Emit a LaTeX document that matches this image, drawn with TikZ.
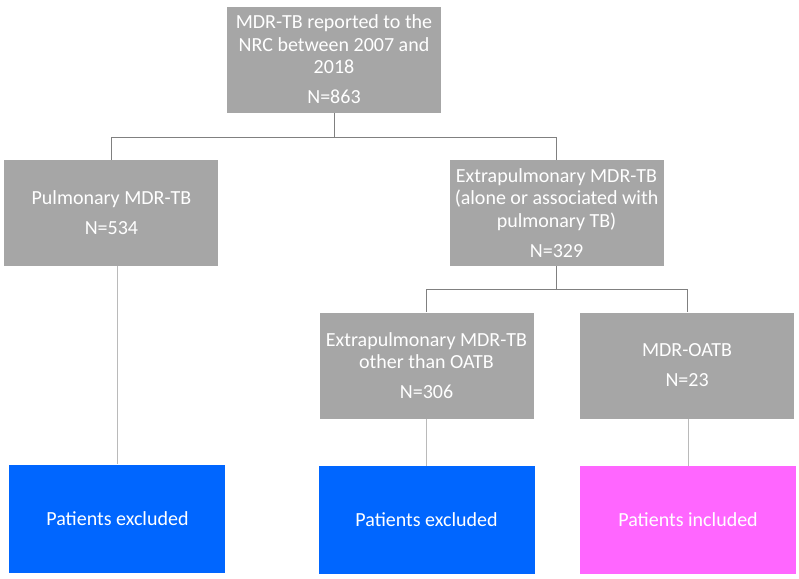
\documentclass[tikz,border=0pt]{standalone}
\usepackage{fontspec}
\setmainfont{Carlito}
\usetikzlibrary{positioning, calc}
\definecolor{boxgrey}{HTML}{A6A6A6}
\definecolor{exblue}{HTML}{0066FF}
\definecolor{inpink}{HTML}{FF66FF}
\tikzset{%
	stage/.style={rectangle, minimum width=160.5pt, minimum height=79.5pt, inner sep=0pt,%
		align=center, text=white, font=\fontsize{15pt}{16.9pt}\selectfont, fill=boxgrey},
	excl/.style={stage, fill=exblue, minimum width=162pt, minimum height=81pt},
	incl/.style={stage, fill=inpink, minimum width=162pt, minimum height=81pt},
	link/.style={draw=black!50, line width=0.75pt},
	drop/.style={draw=black!27, line width=0.75pt}
}
\begin{document}
\begin{tikzpicture}[x=0.75pt, y=-0.75pt]
	\useasboundingbox (0,0) rectangle (799,578);
	\node[stage] (src) at (334,59.5) {MDR-TB reported to the\\NRC between 2007 and\\2018\\[5.6pt]N=863};
	\node[stage, below left=35.25pt and 6pt of src] (pulm) {Pulmonary MDR-TB\\[5.6pt]N=534};
	\node[stage, below right=35.25pt and 6pt of src] (extra) {Extrapulmonary MDR-TB\\(alone or associated with\\pulmonary TB)\\[5.6pt]N=329};
	\node[stage, below=34.5pt of extra, xshift=-97.5pt] (other) {Extrapulmonary MDR-TB\\other than OATB\\[5.6pt]N=306};
	\node[stage, right=34.5pt of other] (oatb) {MDR-OATB\\[5.6pt]N=23};
	\node[excl, below=148.5pt of pulm, xshift=4.5pt] (out1) {Patients excluded};
	\node[excl, below=35.25pt of other] (out2) {Patients excluded};
	\node[incl, below=35.25pt of oatb, xshift=0.75pt] (in) {Patients included};

	\coordinate (j1) at ($(src.south)+(0,-18.75pt)$);
	\coordinate (j2) at ($(extra.south)+(0,-17.25pt)$);
	\draw[link] (src.south) -- (j1) -| (pulm.north);
	\draw[link] (j1) -| (extra.north);
	\draw[link] (extra.south) -- (j2) -| (other.north);
	\draw[link] (j2) -| (oatb.north);
	\draw[drop] (out1.north |- pulm.south) -- (out1.north);
	\draw[drop] (other.south) -- (out2.north);
	\draw[drop] (in.north |- oatb.south) -- (in.north);
\end{tikzpicture}
\end{document}
